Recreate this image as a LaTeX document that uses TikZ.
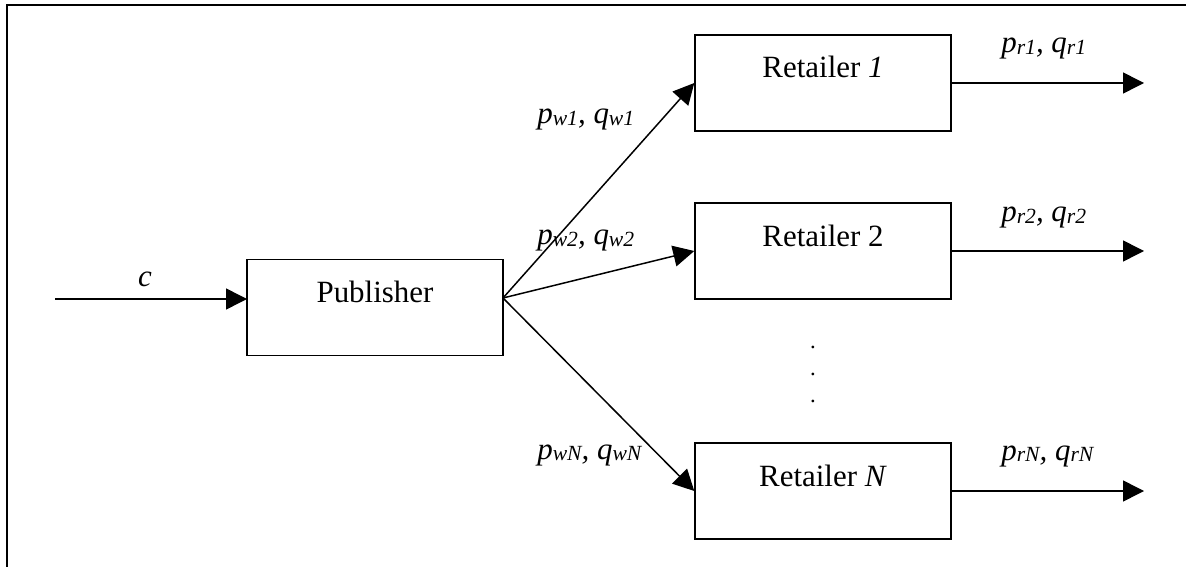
\documentclass[tikz,border=0pt]{standalone}
\usepackage{fontspec}
\setmainfont{Liberation Serif}
\usetikzlibrary{arrows.meta}

\newcommand{\lowidx}[1]{\raisebox{-0.04em}{\fontsize{12.3pt}{14pt}\selectfont #1}}
\newcommand{\pqpair}[1]{p\lowidx{#1}, q\lowidx{#1}}

\begin{document}
\begin{tikzpicture}[x=0.02cm, y=-0.02cm,
    font=\fontsize{17.6pt}{21pt}\selectfont,
    >={Triangle[length=0.42cm, width=0.42cm]},
    box/.style={draw, line width=0.85pt, minimum width=5.12cm, minimum height=1.92cm,
                inner sep=0pt, text height=0.86cm, text depth=1.06cm},
    flow/.style={->, line width=0.85pt},
    lbl/.style={anchor=base west, inner sep=0pt, font=\fontsize{17.6pt}{21pt}\selectfont\itshape}]
    \useasboundingbox (0,0) rectangle (1186,567);

    % Frame (top and left only)
    \draw[line width=1.3pt] (7,567) -- (7,5) -- (1186,5);

    % --- BOXES ---
    \node[box] (pub) at (375,307.5) {Publisher};
    \node[box] (r1) at (823,83) {Retailer \textit{1}};
    \node[box] (r2) at (823,251) {Retailer 2};
    \node[box] (rN) at (823,491) {Retailer \textit{N}};

    % --- END POINTS ---
    \coordinate (src) at (55,299);
    \coordinate (feed) at (247,299);
    \coordinate (fan) at (503,298);
    \coordinate (out1) at (1144,83);
    \coordinate (out2) at (1144,251);
    \coordinate (outN) at (1144,491);

    % --- ARROWS ---
    \draw[flow] (src) -- (feed);
    \draw[flow] (fan) -- (r1.west);
    \draw[flow] (fan) -- (r2.west);
    \draw[flow] (fan) -- (rN.west);
    \draw[flow] (r1.east) -- (out1);
    \draw[flow] (r2.east) -- (out2);
    \draw[flow] (rN.east) -- (outN);

    % --- LABELS ---
    \node[lbl, anchor=base] (lc) at (145,287) {c};
    \node[lbl] (lw1) at (537,124) {\pqpair{w1}};
    \node[lbl] (lw2) at (537,245) {\pqpair{w2}};
    \node[lbl] (lwN) at (537,459) {\pqpair{wN}};
    \node[lbl] (lr1) at (1001,53) {\pqpair{r1}};
    \node[lbl] (lr2) at (1001,222) {\pqpair{r2}};
    \node[lbl] (lrN) at (1001,460) {\pqpair{rN}};

    % Dots between Retailer 2 and Retailer N
    \node[inner sep=0pt, anchor=base, align=center,
          font=\fontsize{13pt}{15.36pt}\selectfont] (dots) at (813,402) {.\\.\\.};
\end{tikzpicture}
\end{document}
